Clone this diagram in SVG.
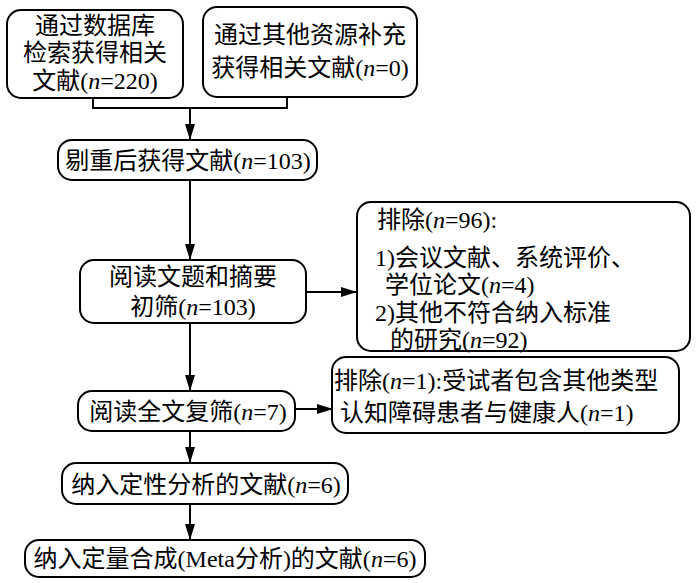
<svg xmlns="http://www.w3.org/2000/svg" width="700" height="583" viewBox="0 0 700 583">
<defs>
<style>
.box{fill:#fff;stroke:#000;stroke-width:2}
text{font-family:"Liberation Serif","Noto Sans CJK SC",serif;font-size:24px;fill:#000}
.c{text-anchor:middle}
.line{fill:none;stroke:#000;stroke-width:2}
.i{font-style:italic}
</style>
<marker id="ah" markerUnits="userSpaceOnUse" markerWidth="17" markerHeight="11" refX="16" refY="5" orient="auto">
<path d="M0,0 L16,5 L0,10 z" fill="#000"/>
</marker>
</defs>
<rect width="700" height="583" fill="#fff"/>
<g id="connectors">
<path class="line" d="M93,98 V108 H287 V97"/>
<path class="line" d="M190,108 V140" marker-end="url(#ah)"/>
<path class="line" d="M190,180 V260" marker-end="url(#ah)"/>
<path class="line" d="M306,292 H357" marker-end="url(#ah)"/>
<path class="line" d="M190,323 V391" marker-end="url(#ah)"/>
<path class="line" d="M295,409 H333" marker-end="url(#ah)"/>
<path class="line" d="M190,431 V463" marker-end="url(#ah)"/>
<path class="line" d="M190,504 V540" marker-end="url(#ah)"/>
</g>
<g id="n1">
<rect class="box" x="7" y="10" width="176" height="88" rx="14"/>
<text class="c" x="95" y="34">通过数据库</text>
<text class="c" x="95" y="61">检索获得相关</text>
<text class="c" x="95" y="89">文献(<tspan class="i">n</tspan>=220)</text>
</g>
<g id="n2">
<rect class="box" x="203" y="7" width="214" height="90" rx="14"/>
<text class="c" x="310" y="43">通过其他资源补充</text>
<text class="c" x="310" y="76">获得相关文献(<tspan class="i">n</tspan>=0)</text>
</g>
<g id="n3">
<rect class="box" x="58" y="140" width="259" height="40" rx="14"/>
<text class="c" x="188" y="169">剔重后获得文献(<tspan class="i">n</tspan>=103)</text>
</g>
<g id="n4">
<rect class="box" x="80" y="260" width="226" height="63" rx="14"/>
<text class="c" x="193" y="285">阅读文题和摘要</text>
<text class="c" x="193" y="315">初筛(<tspan class="i">n</tspan>=103)</text>
</g>
<g id="n5">
<rect class="box" x="357" y="202" width="333" height="149" rx="14"/>
<text x="377" y="228">排除(<tspan class="i">n</tspan>=96):</text>
<text x="375" y="266">1)会议文献、系统评价、</text>
<text x="385" y="293">学位论文(<tspan class="i">n</tspan>=4)</text>
<text x="375" y="321">2)其他不符合纳入标准</text>
<text x="390" y="348">的研究(<tspan class="i">n</tspan>=92)</text>
</g>
<g id="n6">
<rect class="box" x="332" y="357" width="347" height="76" rx="14"/>
<text x="334" y="389">排除(<tspan class="i">n</tspan>=1):受试者包含其他类型</text>
<text x="340" y="421">认知障碍患者与健康人(<tspan class="i">n</tspan>=1)</text>
</g>
<g id="n7">
<rect class="box" x="78" y="391" width="217" height="40" rx="14"/>
<text class="c" x="188" y="420">阅读全文复筛(<tspan class="i">n</tspan>=7)</text>
</g>
<g id="n8">
<rect class="box" x="62" y="463" width="286" height="41" rx="14"/>
<text class="c" x="206" y="493">纳入定性分析的文献(<tspan class="i">n</tspan>=6)</text>
</g>
<g id="n9">
<rect class="box" x="25" y="540" width="400" height="37" rx="14"/>
<text class="c" x="225" y="567">纳入定量合成(Meta分析)的文献(<tspan class="i">n</tspan>=6)</text>
</g>
</svg>
